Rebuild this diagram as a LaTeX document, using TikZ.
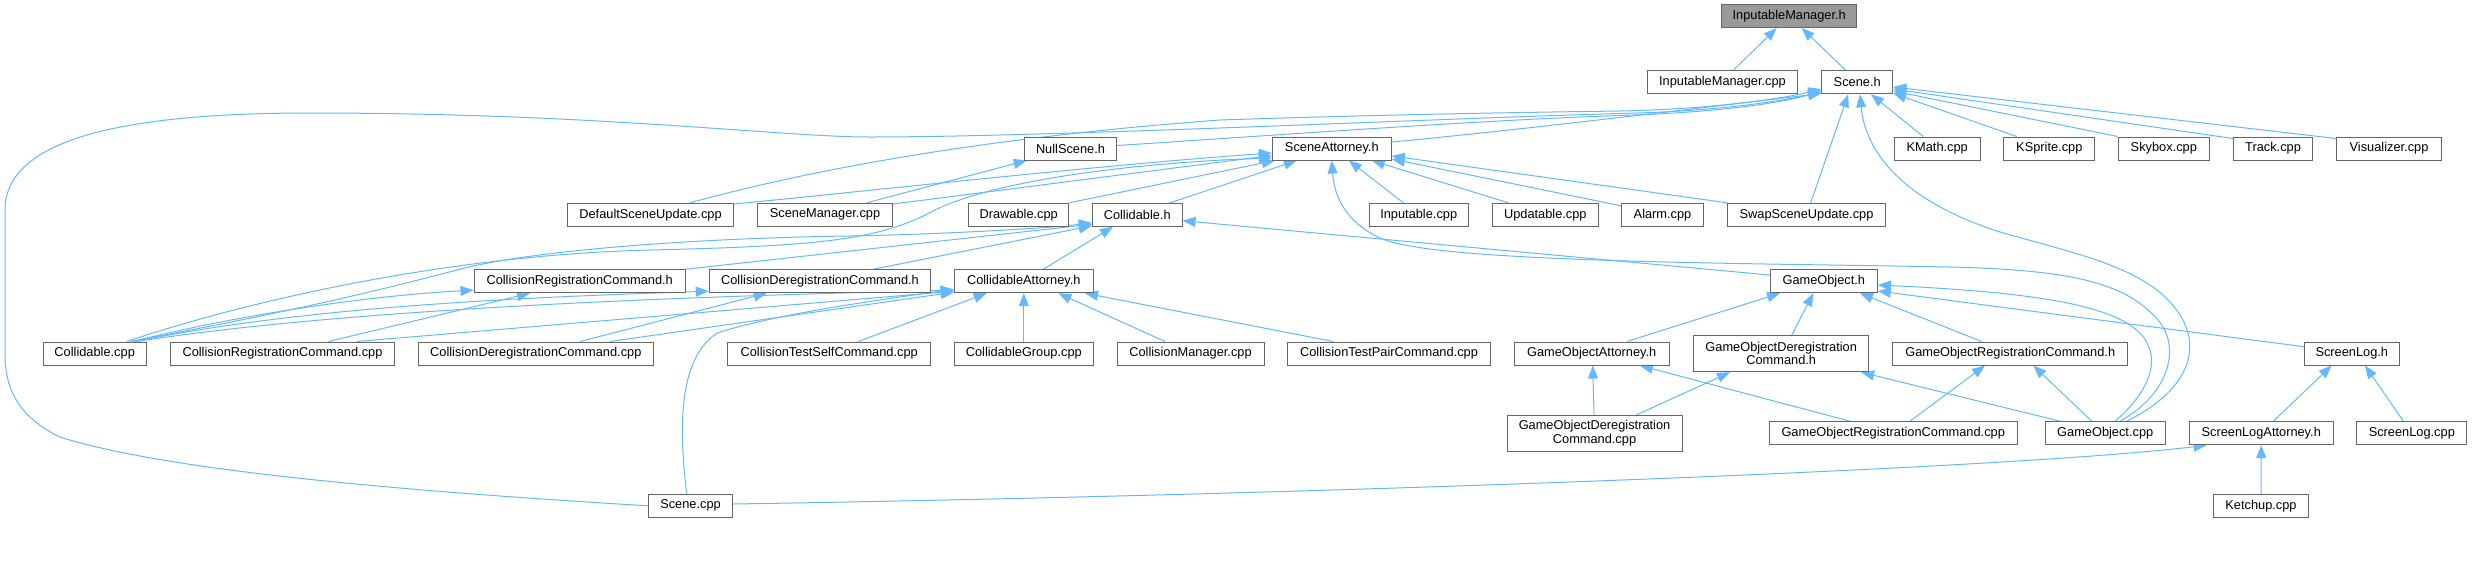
\documentclass[tikz,border=0pt]{standalone}
\usepackage{fontspec}
\setmainfont{Liberation Sans}
\usetikzlibrary{arrows.meta,backgrounds}
\definecolor{edgeblue}{HTML}{63B8FF}
\definecolor{boxgray}{HTML}{666666}
\definecolor{rootfill}{HTML}{999999}
\begin{document}
\begin{tikzpicture}[x=1pt,y=-1pt,
  box/.style={draw=boxgray,line width=1pt,fill=white,rectangle,inner sep=0pt,
    minimum height=23pt,font=\fontsize{12.8}{13.4}\selectfont,align=center},
  tall/.style={minimum height=36pt},
  edge/.style={draw=edgeblue,line width=1pt,-{Triangle[length=13pt,width=10pt]}}]
\useasboundingbox (0,0) rectangle (2472,579);
% row 1-2
\node[box,fill=rootfill,minimum width=135pt] (imh) at (1789.2,16) {InputableManager.h};
\node[box,minimum width=149.6pt] (imcpp) at (1722.5,82.3) {InputableManager.cpp};
\node[box,minimum width=71pt] (sceneh) at (1857.2,82.3) {Scene.h};
% row 3
\node[box,minimum width=92.4pt] (nullscene) at (1070.5,148.5) {NullScene.h};
\node[box,minimum width=119pt] (sa) at (1331.8,148.5) {SceneAttorney.h};
\node[box,minimum width=85.7pt] (kmath) at (1937.2,148.5) {KMath.cpp};
\node[box,minimum width=91.3pt] (ksprite) at (2049.3,148.5) {KSprite.cpp};
\node[box,minimum width=91pt] (skybox) at (2163.8,148.5) {Skybox.cpp};
\node[box,minimum width=79.4pt] (track) at (2273,148.5) {Track.cpp};
\node[box,minimum width=104.6pt] (visualizer) at (2389,148.5) {Visualizer.cpp};
% row 4
\node[box,minimum width=165.6pt] (dsu) at (650.5,214.8) {DefaultSceneUpdate.cpp};
\node[box,minimum width=135.4pt] (smgr) at (825,214.8) {SceneManager.cpp};
\node[box,minimum width=100pt] (drawable) at (1018.7,214.8) {Drawable.cpp};
\node[box,minimum width=89.7pt] (collh) at (1137.2,214.8) {Collidable.h};
\node[box,minimum width=99.3pt] (inputable) at (1418.7,214.8) {Inputable.cpp};
\node[box,minimum width=106pt] (updatable) at (1545.3,214.8) {Updatable.cpp};
\node[box,minimum width=81.6pt] (alarm) at (1662.5,214.8) {Alarm.cpp};
\node[box,minimum width=157.6pt] (swap) at (1806.5,214.8) {SwapSceneUpdate.cpp};
% row 5
\node[box,minimum width=211.3pt] (crch) at (579.7,281.2) {CollisionRegistrationCommand.h};
\node[box,minimum width=221.4pt] (cdch) at (820,281.2) {CollisionDeregistrationCommand.h};
\node[box,minimum width=139pt] (cah) at (1023.8,281.2) {CollidableAttorney.h};
\node[box,minimum width=107pt] (goh) at (1823.8,281.2) {GameObject.h};
% row 6
\node[box,minimum width=103.3pt] (collcpp) at (94.7,353.5) {Collidable.cpp};
\node[box,minimum width=224.4pt] (crccpp) at (282.5,353.5) {CollisionRegistrationCommand.cpp};
\node[box,minimum width=235pt] (cdccpp) at (535.8,353.5) {CollisionDeregistrationCommand.cpp};
\node[box,minimum width=203pt] (ctsc) at (829.2,353.5) {CollisionTestSelfCommand.cpp};
\node[box,minimum width=139pt] (cgroup) at (1023.8,353.5) {CollidableGroup.cpp};
\node[box,minimum width=147pt] (cmgr) at (1190.5,353.5) {CollisionManager.cpp};
\node[box,minimum width=203.4pt] (ctpc) at (1389,353.5) {CollisionTestPairCommand.cpp};
\node[box,minimum width=154.7pt] (goah) at (1591.7,353.5) {GameObjectAttorney.h};
\node[box,tall,minimum width=175pt] (godch) at (1781.2,353.7) {GameObjectDeregistration\\Command.h};
\node[box,minimum width=235pt] (gorch) at (2010.2,353.5) {GameObjectRegistrationCommand.h};
\node[box,minimum width=95pt] (screenlogh) at (2351.8,353.5) {ScreenLog.h};
% row 7
\node[box,tall,minimum width=175pt] (godccpp) at (1594.5,433.2) {GameObjectDeregistration\\Command.cpp};
\node[box,minimum width=248.3pt] (gorccpp) at (1893.2,433.2) {GameObjectRegistrationCommand.cpp};
\node[box,minimum width=120.3pt] (gocpp) at (2105.2,433.2) {GameObject.cpp};
\node[box,minimum width=144.3pt] (slah) at (2261.2,433.2) {ScreenLogAttorney.h};
\node[box,minimum width=109.7pt] (slcpp) at (2411.8,433.2) {ScreenLog.cpp};
% row 8
\node[box,minimum width=84.4pt] (scenecpp) at (690.5,505.8) {Scene.cpp};
\node[box,minimum width=94.6pt] (ketchup) at (2261,505.8) {Ketchup.cpp};

\begin{pgfonlayer}{background}
% InputableManager.h
\draw[edge] ([xshift=10.8pt]imcpp.north) -- ([xshift=-12.5pt]imh.south);
\draw[edge] ([xshift=-11.5pt]sceneh.north) -- ([xshift=12.5pt]imh.south);
% Scene.h
\draw[edge] ([xshift=39.5pt]dsu.north) .. controls (780,178) and (950,140) .. (1220,120)
  .. controls (1400,114) and (1550,112) .. (1620,111) .. controls (1720,109) and (1790,97) .. ([yshift=-6.7pt]sceneh.west);
\draw[edge] ([yshift=3pt]nullscene.east) .. controls (1250,137) and (1480,120) .. (1620,115.5)
  .. controls (1730,112) and (1790,101) .. ([yshift=-8.2pt]sceneh.west);
\draw[edge] ([yshift=6.5pt]sa.east) .. controls (1520,130) and (1700,108) .. ([yshift=-11.2pt]sceneh.west);
\draw[edge] (scenecpp.west) .. controls (420,492) and (170,472) .. (60,437)
  .. controls (20,418) and (5,390) .. (5,355) -- (5,210)
  .. controls (5,140) and (120,113) .. (310,113)
  .. controls (600,113) and (780,137) .. (870,137)
  .. controls (1050,137) and (1450,118) .. (1620,113.5)
  .. controls (1730,111) and (1790,99) .. ([yshift=-9.7pt]sceneh.west);
\draw[edge] ([xshift=-13.9pt]kmath.north) -- ([xshift=13.8pt]sceneh.south);
\draw[edge] ([xshift=-32.6pt]ksprite.north) -- ([yshift=1pt]sceneh.south east);
\draw[edge] (skybox.north west) -- ([yshift=-8.7pt]sceneh.east);
\draw[edge] ([yshift=-2pt]track.north west) -- ([yshift=-6.7pt]sceneh.east);
\draw[edge] ([yshift=-2pt]visualizer.north west) -- ([yshift=-4.7pt]sceneh.east);
\draw[edge] ([xshift=4.2pt]swap.north) -- ([xshift=-9pt]sceneh.south);
\draw[edge] ([xshift=21.5pt]gocpp.north) .. controls (2180,395) and (2205,355) .. (2180,315)
  .. controls (2150,268) and (2080,255) .. (2000,232)
  .. controls (1900,200) and (1865,150) .. ([xshift=2.8pt]sceneh.south);
% NullScene.h
\draw[edge] ([xshift=41.7pt]smgr.north) -- ([xshift=-43.8pt]nullscene.south);
% SceneAttorney.h
\draw[edge] ([yshift=10.8pt]dsu.east) .. controls (850,193) and (1100,165) .. ([yshift=-4.5pt]sa.west);
\draw[edge] ([yshift=10.8pt]smgr.east) -- ([yshift=-7pt]sa.west);
\draw[edge] (drawable.north east) -- ([xshift=3pt]sa.south west);
\draw[edge] ([xshift=32.8pt]collh.north) -- ([xshift=-35pt]sa.south);
\draw[edge] ([xshift=32pt]collcpp.north) .. controls (250,300) and (450,255) .. (650,250)
  .. controls (820,246) and (880,240) .. (935,210)
  .. controls (1000,178) and (1150,162) .. ([yshift=-9.5pt]sa.west);
\draw[edge] ([xshift=-15.4pt]inputable.north) -- ([xshift=17pt]sa.south);
\draw[edge] ([xshift=-37pt]updatable.north) -- ([xshift=40pt]sa.south);
\draw[edge] ([yshift=9pt]alarm.west) -- ([yshift=-10.5pt]sa.east);
\draw[edge] (swap.north west) -- ([yshift=-7.5pt]sa.east);
\draw[edge] ([xshift=14.8pt]gocpp.north) .. controls (2168,395) and (2182,348) .. (2158,320)
  .. controls (2125,282) and (2070,270) .. (1950,267)
  .. controls (1750,263) and (1450,263) .. (1385,240)
  .. controls (1345,224) and (1334,195) .. (sa.south);
% Collidable.h
\draw[edge] ([xshift=35pt]collcpp.north) .. controls (300,310) and (380,290) .. (457,270)
  .. controls (530,250) and (700,238) .. (850,236)
  .. controls (950,234) and (1050,228) .. ([yshift=-8pt]collh.west);
\draw[edge] (crch.north east) -- ([yshift=-9.5pt]collh.west);
\draw[edge] ([xshift=53.3pt]cdch.north) -- ([yshift=-11pt]collh.west);
\draw[edge] ([xshift=19.5pt]cah.north) -- ([xshift=-24.2pt]collh.south);
\draw[edge] ([yshift=6.2pt]goh.west) -- ([yshift=-5.9pt]collh.east);
% CollisionRegistrationCommand.h
\draw[edge] ([xshift=38pt]collcpp.north) .. controls (250,312) and (380,295) .. ([yshift=-9pt]crch.west);
\draw[edge] ([xshift=45.8pt]crccpp.north) -- ([xshift=-49.7pt]crch.south);
% CollisionDeregistrationCommand.h
\draw[edge] ([xshift=40pt]collcpp.north) .. controls (300,308) and (500,298) .. ([yshift=-10pt]cdch.west);
\draw[edge] ([xshift=44.2pt]cdccpp.north) -- ([xshift=-53.3pt]cdch.south);
% CollidableAttorney.h
\draw[edge] ([xshift=42pt]collcpp.north) .. controls (350,308) and (700,296) .. ([yshift=-9pt]cah.west);
\draw[edge] ([xshift=74.2pt]crccpp.north) -- ([yshift=-10pt]cah.west);
\draw[edge] ([xshift=74.2pt]cdccpp.north) -- ([yshift=-11pt]cah.west);
\draw[edge] ([xshift=29.1pt]ctsc.north) -- ([xshift=-37.1pt]cah.south);
\draw[edge] (cgroup.north) -- (cah.south);
\draw[edge] ([xshift=-25.5pt]cmgr.north) -- ([xshift=34.5pt]cah.south);
\draw[edge] ([xshift=-55.7pt]ctpc.north) -- ([xshift=61.2pt]cah.south);
\draw[edge] ([xshift=-3.8pt]scenecpp.north) .. controls (678,420) and (680,358) .. (717,333)
  .. controls (780,313) and (880,300) .. ([yshift=-8pt]cah.west);
% GameObject.h
\draw[edge] ([xshift=35pt]goah.north) -- ([xshift=-43.8pt]goh.south);
\draw[edge] ([xshift=10.5pt]godch.north) -- ([xshift=-10.5pt]goh.south);
\draw[edge] ([xshift=-28.5pt]gorch.north) -- ([xshift=36.2pt]goh.south);
\draw[edge] ([xshift=9.8pt]gocpp.north) .. controls (2140,400) and (2160,370) .. (2148,345)
  .. controls (2132,308) and (2050,293) .. ([yshift=-3.8pt]goh.east);
\draw[edge] ([yshift=6.8pt]screenlogh.west) -- ([yshift=-9.8pt]goh.east);
% GameObjectAttorney.h
\draw[edge] ([xshift=-0.5pt]godccpp.north) -- ([xshift=1pt]goah.south);
\draw[edge] ([xshift=-43.2pt]gorccpp.north) -- ([xshift=48.3pt]goah.south);
% GameObjectDeregistrationCommand.h
\draw[edge] ([xshift=42.2pt]godccpp.north) -- ([xshift=-51.2pt]godch.south);
\draw[edge] ([xshift=-45.2pt]gocpp.north) -- ([xshift=80pt]godch.south);
% GameObjectRegistrationCommand.h
\draw[edge] ([xshift=16.8pt]gorccpp.north) -- ([xshift=-25.2pt]gorch.south);
\draw[edge] ([xshift=-13.5pt]gocpp.north) -- ([xshift=23.1pt]gorch.south);
% ScreenLog.h
\draw[edge] ([xshift=12.1pt]slah.north) -- ([xshift=-20.1pt]screenlogh.south);
\draw[edge] ([xshift=-8.5pt]slcpp.north) -- ([xshift=13.2pt]screenlogh.south);
% ScreenLogAttorney.h
\draw[edge] (ketchup.north) -- (slah.south);
\draw[edge] ([yshift=1.8pt]scenecpp.east) .. controls (1300,495) and (2000,470) .. ([xshift=-54.5pt]slah.south);
\end{pgfonlayer}
\end{tikzpicture}
\end{document}
